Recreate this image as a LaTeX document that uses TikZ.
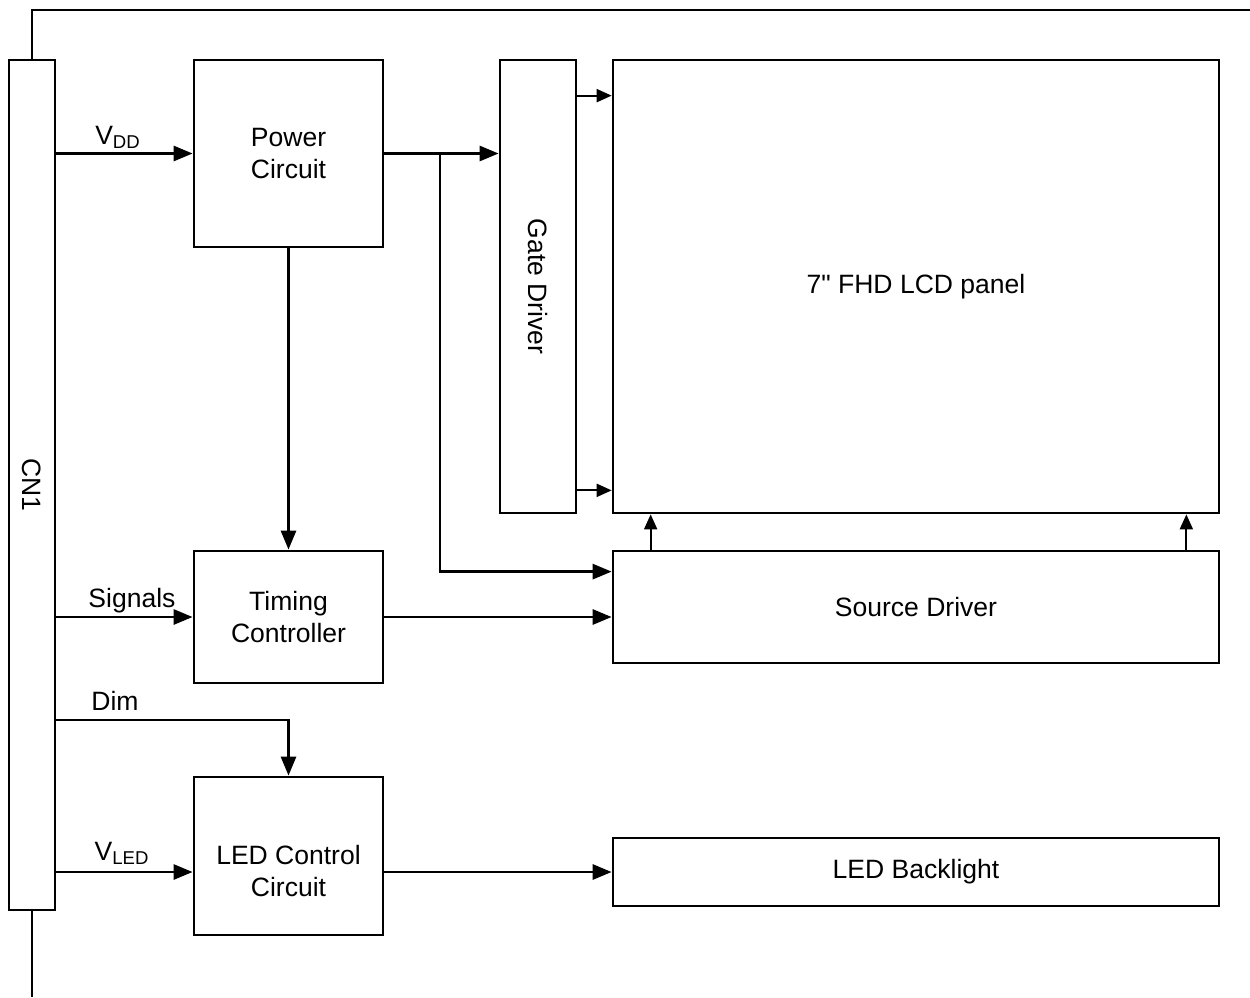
\documentclass[tikz,border=0pt]{standalone}
\usepackage{fontspec}
\setmainfont{Liberation Sans}[Ligatures=TeXOff]
\usetikzlibrary{arrows.meta,calc}
\begin{document}
\begin{tikzpicture}[x=0.02cm,y=-0.02cm,
  blk/.style={draw,line width=1.6pt,inner sep=0pt,align=center,font=\fontsize{15.1}{18.2}\selectfont},
  lbl/.style={font=\fontsize{15.1}{18.2}\selectfont,inner sep=0pt,align=center},
  conn/.style={line width=1.6pt,-{Triangle[length=0.38cm,width=0.3cm]}},
  sconn/.style={line width=1.1pt,-{Triangle[length=0.3cm,width=0.26cm]}},
  frame/.style={line width=1.1pt}]
\useasboundingbox (0,0) rectangle (1250,997);
% blocks
\node[blk,minimum width=0.92cm,minimum height=17cm] (cn1) at (32,485) {};
\node[lbl,rotate=-90] (cn1t) at (32,485) {CN1};
\node[blk,minimum width=3.78cm,minimum height=3.74cm] (pw) at (288.5,153.5) {Power\\Circuit};
\node[blk,minimum width=1.52cm,minimum height=9.06cm] (gd) at (538,286.5) {};
\node[lbl,rotate=-90] (gdt) at (538,286.5) {Gate Driver};
\node[blk,minimum width=12.12cm,minimum height=9.06cm] (lcd) at (916,286.5) {7" FHD LCD panel};
\node[blk,minimum width=3.78cm,minimum height=2.64cm] (tc) at (288.5,617) {Timing\\Controller};
\node[blk,minimum width=12.12cm,minimum height=2.24cm] (sd) at (916,607) {Source Driver};
\node[blk,minimum width=3.78cm,minimum height=3.16cm] (ledc) at (288.5,856) {};
\node[lbl] (ledct) at (288.5,871) {LED Control\\Circuit};
\node[blk,minimum width=12.12cm,minimum height=1.36cm] (led) at (916,872) {LED Backlight};
% frame lines
\coordinate (ftl) at (32,10);
\coordinate (ftr) at (1250,10);
\coordinate (fb) at (32,997);
\draw[frame] (cn1.north) -- (ftl) -- (ftr);
\draw[frame] (cn1.south) -- (fb);
% connectors
\coordinate (br) at (440,154);
\coordinate (dimy) at (0,720);
\draw[conn] (cn1.east |- pw.west) -- (pw.west);
\draw[conn] (pw.east) -- (pw.east -| gd.west);
\draw[conn] (br) |- ($(sd.north west)+(0,22)$);
\draw[conn] (pw.south) -- (tc.north);
\draw[sconn] ($(gd.north east)+(0,37)$) -- ($(lcd.north west)+(0,37)$);
\draw[sconn] ($(gd.south east)+(0,-24)$) -- ($(lcd.south west)+(0,-24)$);
\draw[conn] (cn1.east |- tc.west) -- (tc.west);
\draw[conn] (tc.east) -- (tc.east -| sd.west);
\draw[sconn] ($(sd.north west)+(39,0)$) -- ($(lcd.south west)+(39,0)$);
\draw[sconn] ($(sd.north east)+(-34,0)$) -- ($(lcd.south east)+(-34,0)$);
\draw[conn] (cn1.east |- dimy) -| (ledc.north);
\draw[conn] (cn1.east |- led.west) -- (ledc.west |- led.west);
\draw[conn] (ledc.east |- led.west) -- (led.west);
% labels
\node[lbl] (vdd) at (118,137) {V\textsubscript{DD}};
\node[lbl] (sig) at (132,601) {Signals};
\node[lbl] (dim) at (115,701) {Dim};
\node[lbl] (vled) at (122,853) {V\textsubscript{LED}};
\end{tikzpicture}
\end{document}
